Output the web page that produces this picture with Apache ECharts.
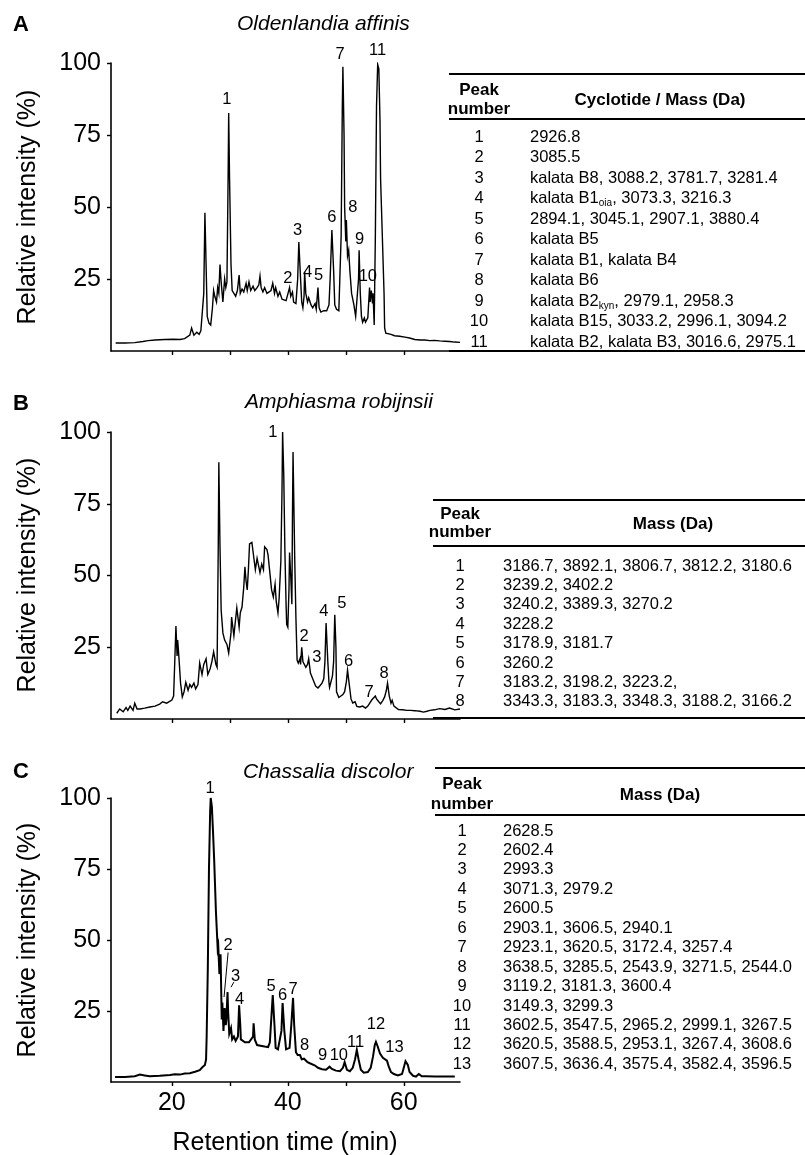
<!DOCTYPE html>
<html>
<head>
<meta charset="utf-8">
<script src="https://cdn.jsdelivr.net/npm/echarts@6/dist/echarts.min.js"></script>
<style>
html,body{margin:0;padding:0;background:#fff;}
#c{width:805px;height:1155px;}
</style>
</head>
<body>
<div id="c"></div>
<script>
// ---------------- DATA ----------------
const panelLetters = ['A', 'B', 'C'];
const panelTitles = ['Oldenlandia affinis', 'Amphiasma robijnsii', 'Chassalia discolor'];
const yAxisTitle = 'Relative intensity (%)';
const xAxisTitle = 'Retention time (min)';
const xTickValues = [20, 30, 40, 50, 60];
const xLabelValues = [20, 40, 60];

// Panel A trace
const timesA = [10.3,11.9,13.6,15.0,15.9,17.1,18.8,20.2,21.4,22.2,23.1,23.4,23.8,24.3,24.7,25.0,25.3,25.5,25.7,25.9,26.1,26.4,26.7,27.0,27.2,27.4,27.7,27.9,28.1,28.3,28.5,28.8,29.1,29.3,29.5,29.7,29.8,29.95,30.2,30.4,30.7,31.0,31.3,31.6,31.8,32.1,32.4,32.8,33.0,33.3,33.6,34.0,34.3,34.7,35.0,35.2,35.4,35.7,36.0,36.4,36.7,37.1,37.4,37.7,37.9,38.3,38.6,39.0,39.3,39.7,40.0,40.3,40.5,40.8,41.0,41.4,41.7,41.9,42.2,42.4,42.6,42.8,42.9,43.1,43.4,43.6,44.0,44.3,44.7,44.9,45.2,45.4,45.7,46.2,46.7,47.1,47.3,47.6,47.9,48.1,48.4,48.8,49.1,49.2,49.4,49.5,49.7,49.8,50.0,50.1,50.2,50.3,50.5,50.7,51.0,51.4,51.7,52.0,52.2,52.3,52.5,52.7,52.9,53.2,53.4,53.8,54.1,54.2,54.4,54.6,54.7,54.9,55.1,55.3,55.5,55.7,55.9,56.0,56.3,56.6,56.7,56.9,57.2,57.8,58.4,59.3,60.2,61.0,61.9,62.8,63.6,64.5,65.3,66.2,67.1,67.9,68.8,69.7];
const intensA = [2.8,2.8,2.9,3.3,3.6,3.8,4.0,4.1,4.0,4.3,5.5,8,5.5,6.5,5.8,7,6.5,20,48,30,12,9.7,9,15,21,19,17,22,20,30,24,17,25,22,24,60,82.6,60,30,21,20,19,21,26.4,20,21.5,20.5,23.5,21,24,21,22.5,21,22,23,26,22,20.5,22,20,19.5,21,23.5,20,22,19,20.5,18,18.5,17.5,17.8,22,19,20.5,17,16.5,25,37.8,25,17,15,19,27.5,20,17,18.5,16,15,16.5,14.5,22,15,13.5,14,14,16,25,42,28,16,14.5,14,14.5,40,85,98.7,75,50,38,45.5,45,33,35,28,20,16,12,12,25,35,20,12,10,11.5,10,11.5,22,17,21,16.5,20,9,40,85,99.5,98,80,60,40,20,8,6.2,6.0,5.8,5.3,5.1,4.8,4.5,4.0,3.8,3.8,3.6,3.7,3.5,3.4,3.3,3.1,3.0];

// Panel B trace
const timesB = [10.5,11.0,11.6,12.1,12.4,12.8,13.3,13.6,14.0,14.5,15.3,16.2,17.1,17.9,18.4,19.1,20.0,20.3,20.5,20.7,20.9,21.0,21.2,21.5,21.8,22.1,22.4,22.8,23.1,23.4,23.8,24.1,24.5,24.8,25.2,25.5,25.9,26.2,26.6,26.9,27.2,27.6,27.8,28.0,28.1,28.3,28.5,28.8,29.1,29.5,29.8,30.2,30.3,30.7,30.9,31.2,31.6,31.8,32.1,32.4,32.6,32.8,33.0,33.2,33.4,33.8,34.1,34.4,34.7,34.9,35.2,35.5,35.8,36.0,36.4,36.6,36.9,37.2,37.5,37.8,38.0,38.3,38.5,38.8,39.0,39.1,39.3,39.5,39.7,39.8,40.0,40.2,40.3,40.5,40.7,40.8,40.9,41.0,41.2,41.4,41.6,41.8,42.1,42.2,42.4,42.6,42.8,43.1,43.4,43.6,43.9,44.1,44.5,44.8,45.2,45.5,45.9,46.2,46.4,46.6,46.7,46.9,47.1,47.2,47.4,47.7,47.9,48.1,48.3,48.4,48.8,49.1,49.5,49.8,50.1,50.3,50.6,50.9,51.2,51.6,51.9,52.4,52.9,53.4,53.8,54.1,54.5,54.8,55.1,55.3,55.7,56.0,56.4,56.7,57.0,57.2,57.5,57.8,58.0,58.3,58.6,59.1,59.8,60.5,61.2,61.9,62.8,63.4,64.0,64.5,65.3,66.2,67.1,67.9,68.8,69.7];
const intensB = [2,3.5,2.5,4,3,4.5,3,5.5,3.5,3.5,3.8,4.2,4.5,5.2,6,5.5,6.6,8,20,32.4,22,27.5,22,12.5,7.7,9.5,12.8,10,12,11,12.5,10.5,12,19.5,15.5,19,21,15.5,17.5,20,23.4,19,18,60,89.5,60,38,30,27.5,26,23,30,35.5,29,33,38.7,32,37,39,46,53,48,45,52,61,61.5,61,52,56,54,51,54,52,60,59,57,51,45,42.5,47,41,37,42,55,80,100,85,58,40,33,32,45,58,50,40,70,93,80,55,35,20.5,19.5,21,19,25,20,19.5,18,19,21,16,15.5,13,11.5,10.8,11.5,12.5,14,20,33.4,33,20,12.6,11,10.6,15,20,36.3,25,9.5,7.5,7.2,8.5,9.5,13,17,12,7,5.6,6,4.4,4.2,4.5,3.8,4.5,5,6.7,7,8,7,6,5.3,6.5,7.7,10,12.5,8,5.5,6.5,4.5,4,3.3,3.2,3,3,2.9,2.7,2.4,2.7,3,3.2,3.6,3.3,3.8,3.2,3.5];

// Panel C trace
const timesC = [10.2,11.9,13.6,14.5,14.8,15.3,16.2,17.9,19.7,20.5,21.4,22.2,23.1,24.0,24.8,25.3,25.7,25.9,26.0,26.2,26.4,26.6,26.7,26.9,27.1,27.3,27.6,27.9,28.0,28.2,28.4,28.6,28.7,28.9,29.1,29.3,29.4,29.6,29.7,29.9,30.2,30.4,30.7,31.0,31.4,31.6,31.8,31.9,32.2,32.6,32.9,33.3,33.6,34.0,34.1,34.3,34.7,35.0,35.5,36.0,36.6,36.9,37.2,37.4,37.7,37.9,38.3,38.6,38.9,39.1,39.4,39.7,40.0,40.3,40.6,40.9,41.1,41.4,41.7,42.1,42.4,42.8,43.1,43.4,43.8,44.1,44.7,45.2,45.9,46.6,46.9,47.2,47.6,48.3,49.0,49.5,49.8,50.2,50.7,51.2,51.6,51.9,52.2,52.6,53.1,53.8,54.3,54.7,55.0,55.2,55.5,55.9,56.4,56.7,57.1,57.4,57.8,58.3,59.0,59.7,60.0,60.3,60.7,61.0,61.6,62.1,62.6,63.1,63.8,65.3,67.1,68.8];
const intensC = [1.8,1.8,2.0,2.6,3.2,2.3,2.0,2.2,2.5,2.7,2.6,3.0,3.1,3.6,4.2,5.3,6,8,16,40,75,95,100,97,88,78,60,47,48,38,45,22,28,18,26,20,22,31.7,25,17,19,15,16,14.5,16,27,20,15,14.5,14,13.7,14,13.5,16,20.7,15,13,13.5,12.7,12.5,12.3,14,24,30.6,20,12,11.5,11.5,18,27.8,18,11.5,11,12,20,29.6,20,10.5,9.5,9.5,8,8.2,8.8,7,6.6,6,5.8,5,4.5,4.3,4.8,5.4,4.6,4.0,3.8,5,7,4.3,3.8,5,8,11.3,8,4.3,3.3,3.5,5,9,13,14.1,12.5,10,8.5,7.8,7.5,5.5,3.5,2.8,2.3,2.8,5,7.3,6,3.5,2.2,1.9,2.8,2.0,2.0,1.9,1.9,1.9];

// Peak number labels (label, time, intensity position)
const peakLabelsA = ['1','2','3','4','5','6','7','8','9','10','11'];
const peakLabelTA = [29.5,40.0,41.7,43.4,45.3,47.6,49.0,51.2,52.4,53.8,55.5];
const peakLabelVA = [87.2,25.3,41.7,27.4,26.4,46.2,103.1,49.7,38.9,26.0,104.5];

const peakLabelsB = ['1','2','3','4','5','6','7','8'];
const peakLabelTB = [37.4,42.8,45.0,46.2,49.3,50.5,54.0,56.6];
const peakLabelVB = [100,28.9,21.3,37.6,40.4,19.9,9.1,16.0];

const peakLabelsC = ['1','2','3','4','5','6','7','8','9','10','11','12','13'];
const peakLabelTC = [26.6,29.7,31.0,31.7,37.1,39.1,40.9,42.9,46.0,48.8,51.7,55.2,58.4];
const peakLabelVC = [103.5,48.2,37.3,29.2,33.8,30.3,32.7,12.7,9.5,9.5,14.1,20.1,12.0];

// leader lines in panel C (peak 2 and 3): [t1,v1,t2,v2]
const leadersC = [[29.7,45.6,29.0,29.9],[30.7,35.2,30.2,33.4]];

// Tables
const tableHeadA = 'Cyclotide / Mass (Da)';
const tableHeadB = 'Mass (Da)';
const tableHeadC = 'Mass (Da)';
const peakColHead = ['Peak', 'number'];
const tablePeaksA = ['1','2','3','4','5','6','7','8','9','10','11'];
const tableMassA = ['2926.8','3085.5','kalata B8, 3088.2, 3781.7, 3281.4','kalata B1_oia_, 3073.3, 3216.3','2894.1, 3045.1, 2907.1, 3880.4','kalata B5','kalata B1, kalata B4','kalata B6','kalata B2_kyn_, 2979.1, 2958.3','kalata B15, 3033.2, 2996.1, 3094.2','kalata B2, kalata B3, 3016.6, 2975.1'];
const tablePeaksB = ['1','2','3','4','5','6','7','8'];
const tableMassB = ['3186.7, 3892.1, 3806.7, 3812.2, 3180.6','3239.2, 3402.2','3240.2, 3389.3, 3270.2','3228.2','3178.9, 3181.7','3260.2','3183.2, 3198.2, 3223.2,','3343.3, 3183.3, 3348.3, 3188.2, 3166.2'];
const tablePeaksC = ['1','2','3','4','5','6','7','8','9','10','11','12','13'];
const tableMassC = ['2628.5','2602.4','2993.3','3071.3, 2979.2','2600.5','2903.1, 3606.5, 2940.1','2923.1, 3620.5, 3172.4, 3257.4','3638.5, 3285.5, 2543.9, 3271.5, 2544.0','3119.2, 3181.3, 3600.4','3149.3, 3299.3','3602.5, 3547.5, 2965.2, 2999.1, 3267.5','3620.5, 3588.5, 2953.1, 3267.4, 3608.6','3607.5, 3636.4, 3575.4, 3582.4, 3596.5'];

// ---------------- LAYOUT / STYLE ----------------
const FONT = '"Liberation Sans", Arial, Helvetica, sans-serif';
const grids = [
  {left:111, top:63,  width:349, height:288},
  {left:111, top:432, width:349, height:287},
  {left:111, top:798, width:349, height:284}
];
const traces = [[timesA,intensA],[timesB,intensB],[timesC,intensC]];
const labelSets = [[peakLabelsA,peakLabelTA,peakLabelVA],[peakLabelsB,peakLabelTB,peakLabelVB],[peakLabelsC,peakLabelTC,peakLabelVC]];
const traceWidths = [1.4, 1.4, 2];

const xAxes = [], yAxes = [], series = [];
for (let i = 0; i < 3; i++) {
  xAxes.push({
    type:'value', gridIndex:i, min:9.5, max:69.7,
    axisLine:{show:true, onZero:false, lineStyle:{color:'#000', width:1.6}},
    axisTick:{show:true, inside:false, length:4, customValues:xTickValues, lineStyle:{color:'#000', width:1.4}},
    axisLabel:{show:i===2, customValues:xLabelValues, color:'#000', fontSize:25, fontFamily:FONT, margin:9},
    splitLine:{show:false}
  });
  yAxes.push({
    type:'value', gridIndex:i, min:0, max:100, interval:25,
    axisLine:{show:true, lineStyle:{color:'#000', width:1.6}},
    axisTick:{show:true, inside:false, length:4, lineStyle:{color:'#000', width:1.4}},
    axisLabel:{color:'#000', fontSize:25, fontFamily:FONT, margin:10, showMinLabel:false},
    splitLine:{show:false}
  });
  const [ts, vs] = traces[i];
  series.push({
    type:'line', xAxisIndex:i, yAxisIndex:i, showSymbol:false, symbol:'none',
    data: ts.map((t,k)=>[t, vs[k]]),
    lineStyle:{color:'#000', width:traceWidths[i], join:'miter'}, animation:false, silent:true
  });
  const [ls, lt, lv] = labelSets[i];
  series.push({
    type:'scatter', xAxisIndex:i, yAxisIndex:i, clip:false, symbolSize:1,
    itemStyle:{color:'rgba(0,0,0,0)', opacity:1},
    data: ls.map((s,k)=>[lt[k], lv[k], s]),
    label:{show:true, position:'inside', formatter:p=>p.value[2], color:'#000', opacity:1, fontSize:16.5, fontFamily:FONT},
    animation:false, silent:true
  });
}
leadersC.forEach(l => {
  series.push({
    type:'line', xAxisIndex:2, yAxisIndex:2, showSymbol:false, symbol:'none',
    data:[[l[0],l[1]],[l[2],l[3]]], lineStyle:{color:'#000', width:1}, animation:false, silent:true
  });
});

// ---------------- GRAPHIC (titles, letters, tables) ----------------
const g = [];
function txt(x, y, text, opt) {
  g.push(Object.assign({type:'text', x:x, y:y, silent:true, style:Object.assign({text:text, fill:'#000', font: '16px ' + FONT, align:'left', verticalAlign:'middle'}, opt || {})}));
}
function hline(x1, x2, y, w) {
  g.push({type:'line', silent:true, shape:{x1:x1, y1:y, x2:x2, y2:y}, style:{stroke:'#000', lineWidth:w}});
}
const letterPos = [[13,25],[13,404],[13,772]];
const titlePos = [[237,24],[245,402],[243,772]];
const yTitleY = [207, 575, 940];
for (let i = 0; i < 3; i++) {
  txt(letterPos[i][0], letterPos[i][1], panelLetters[i], {font:'bold 22px ' + FONT});
  txt(titlePos[i][0], titlePos[i][1], panelTitles[i], {font:'italic 21px ' + FONT});
  g.push({type:'text', x:28, y:yTitleY[i], rotation:Math.PI/2, silent:true,
    style:{text:yAxisTitle, fill:'#000', font:'25px ' + FONT, align:'center', verticalAlign:'middle'}});
}
txt(285, 1143, xAxisTitle, {font:'25px ' + FONT, align:'center'});

function richMass(s) {
  const parts = s.split('_');
  let out = '';
  parts.forEach((p, k) => { if (p.length) out += (k % 2 ? '{s|' + p + '}' : '{n|' + p + '}'); });
  return out;
}
const richStyle = {
  n:{fontSize:16.5, fontFamily:FONT, fill:'#000', lineHeight:20, verticalAlign:'middle'},
  s:{fontSize:10, fontFamily:FONT, fill:'#000', lineHeight:20, verticalAlign:'bottom'}
};
function table(cfg, head, peaks, masses) {
  hline(cfg.left, 805, cfg.top, 2);
  txt(cfg.numX, cfg.peakY, peakColHead[0], {font:'bold 17px ' + FONT, align:'center'});
  txt(cfg.numX, cfg.numberY, peakColHead[1], {font:'bold 17px ' + FONT, align:'center'});
  txt(cfg.headX, cfg.headY, head, {font:'bold 17px ' + FONT, align:'center'});
  hline(cfg.left, 805, cfg.rule, 2);
  peaks.forEach((p, k) => {
    const y = cfg.row0 + k * cfg.step;
    txt(cfg.numX, y, p, {font:'16.5px ' + FONT, align:'center'});
    g.push({type:'text', x:cfg.massX, y:y, silent:true,
      style:{text:richMass(masses[k]), rich:richStyle, fill:'#000', font:'16.5px ' + FONT, align:'left', verticalAlign:'middle'}});
  });
  if (cfg.bottom) hline(cfg.left, 805, cfg.bottom, 2);
}
table({left:449, top:74, numX:479, peakY:90, numberY:109, headX:660, headY:100, rule:119, row0:137, step:20.5, massX:530, bottom:351}, tableHeadA, tablePeaksA, tableMassA);
table({left:433, top:500, numX:460, peakY:514, numberY:532, headX:673, headY:524, rule:546, row0:566, step:19.4, massX:503, bottom:718}, tableHeadB, tablePeaksB, tableMassB);
table({left:435, top:768, numX:462, peakY:784, numberY:804, headX:660, headY:795, rule:815, row0:831, step:19.44, massX:503, bottom:0}, tableHeadC, tablePeaksC, tableMassC);

const chart = echarts.init(document.getElementById('c'), null, {renderer:'canvas'});
chart.setOption({
  animation:false,
  backgroundColor:'#fff',
  grid: grids.map(gr => Object.assign({containLabel:false}, gr)),
  xAxis: xAxes,
  yAxis: yAxes,
  series: series,
  graphic: {elements: g}
});
</script>
</body>
</html>
